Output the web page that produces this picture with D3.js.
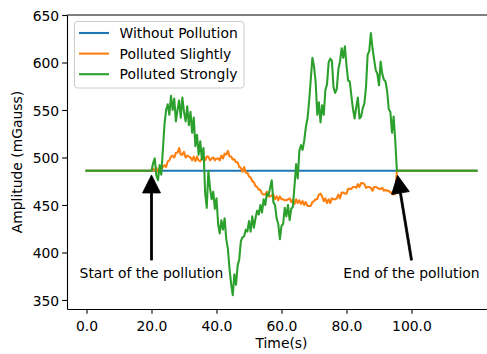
<!DOCTYPE html>
<html>
<head>
<meta charset="utf-8">
<script src="https://cdn.jsdelivr.net/npm/d3@7"></script>
<style>
  body { margin: 0; background: #fff; }
  svg { display: block; }
  text { font-family: "DejaVu Sans", sans-serif; font-size: 13.9px; fill: #000; }
</style>
</head>
<body>
<svg id="chart" width="487" height="354"></svg>
<script>
// Magnetic field amplitude (mGauss) over time (s)
const seriesNames = ["Without Pollution", "Polluted Slightly", "Polluted Strongly"];
const seriesColors = ["#1f77b4", "#ff7f0e", "#2ca02c"];

const baselineLevel = 486;      // undisturbed field level
const recordStart = 0;
const recordEnd = 120;
const pollutionStart = 20;      // first sample of the disturbed interval
const pollutionEnd = 95.5;      // field back to the baseline
const sampleStep = 0.5;         // seconds between disturbed samples

// Samples from t = 20 s to t = 95 s, one row per 5 s
const slightValues = [
  486,488,486,489,485,488,487,490,492,490,
  496,497,501,502,500,505,505,510,503,503,
  506,500,502,501,500,497,501,496,501,497,
  496,499,502,497,501,501,497,499,500,497,
  499,499,497,502,499,504,503,507,501,501,
  498,498,495,495,490,489,485,490,484,484,
  480,479,475,474,470,469,466,466,462,461,
  461,464,459,459,460,461,456,459,455,459,
  456,456,455,455,456,457,453,456,451,456,
  452,455,451,454,450,453,449,449,449,453,
  454,456,456,461,462,459,454,457,452,456,
  452,457,456,456,457,461,457,463,463,462,
  462,467,467,467,469,469,468,472,469,473,
  473,472,468,469,469,468,465,469,469,468,
  467,467,468,465,466,465,465,463,463,461,
  462
];

const strongValues = [
  486,494,499,481,476,492,482,508,535,550,
  556,545,565,550,562,538,550,560,542,563,
  548,538,554,534,548,526,542,512,524,503,
  517,498,510,463,447,486,468,456,464,446,
  457,430,420,434,424,436,414,404,383,367,
  355,377,366,386,393,412,416,417,424,422,
  433,422,438,426,436,444,440,450,442,456,
  450,462,460,468,476,453,450,436,430,414,
  428,430,447,438,450,434,446,448,470,493,
  478,507,513,508,518,532,541,559,582,605,
  596,580,545,558,537,555,545,571,577,600,
  604,602,574,568,572,593,601,615,605,617,
  597,581,580,565,551,541,553,563,541,543,
  552,557,574,608,612,631,615,603,592,588,
  576,601,588,582,580,570,551,548,526,543,
  518
];

const xTickValues = [0, 20, 40, 60, 80, 100];
const yTickValues = [350, 400, 450, 500, 550, 600, 650];

// Pollution markers: arrow tip, arrow tail and label centre in data units
const markers = [
  { label: "Start of the pollution", tip: [20, 481.6], tail: [20, 392], text: [20, 378] },
  { label: "End of the pollution", tip: [95.7, 481.3], tail: [100, 392], text: [100, 378] }
];

function buildSeries(values) {
  const pts = [[recordStart, baselineLevel]];
  values.forEach((v, i) => pts.push([pollutionStart + i * sampleStep, v]));
  pts.push([pollutionEnd, baselineLevel]);
  pts.push([recordEnd, baselineLevel]);
  return pts;
}

const series = [
  [[recordStart, baselineLevel], [recordEnd, baselineLevel]],
  buildSeries(slightValues),
  buildSeries(strongValues)
];

const svg = d3.select("#chart");
const plot = { left: 67, right: 496, top: 15, bottom: 309 };

const x = d3.scaleLinear().domain([-6, 126]).range([plot.left, plot.right]);
const y = d3.scaleLinear().domain([340.5, 650]).range([plot.bottom, plot.top]);

// Lines
const line = d3.line().x(d => x(d[0])).y(d => y(d[1]));
svg.append("g")
  .selectAll("path")
  .data(series)
  .join("path")
  .attr("d", line)
  .attr("fill", "none")
  .attr("stroke", (d, i) => seriesColors[i])
  .attr("stroke-width", 2.08)
  .attr("stroke-linejoin", "round")
  .attr("stroke-linecap", "square");

// Axes
const xAxis = d3.axisBottom(x)
  .tickValues(xTickValues)
  .tickFormat(d => d.toFixed(1))
  .tickSize(4.86)
  .tickSizeOuter(0)
  .tickPadding(7);
const gx = svg.append("g").attr("transform", `translate(0,${plot.bottom})`).call(xAxis);

const yAxis = d3.axisLeft(y)
  .tickValues(yTickValues)
  .tickFormat(d3.format("d"))
  .tickSize(4.86)
  .tickSizeOuter(0)
  .tickPadding(3);
const gy = svg.append("g").attr("transform", `translate(${plot.left},0)`).call(yAxis);

[gx, gy].forEach(g => {
  g.attr("font-family", null).attr("font-size", null);
  g.select(".domain").attr("stroke", "#000").attr("stroke-width", 1.1);
  g.selectAll(".tick line").attr("stroke", "#000").attr("stroke-width", 1.1);
  g.selectAll(".tick text").attr("fill", "#000");
});
gy.selectAll(".tick text").attr("dy", "0.38em");

// Top spine
svg.append("line")
  .attr("x1", plot.left).attr("x2", plot.right)
  .attr("y1", plot.top).attr("y2", plot.top)
  .attr("stroke", "#000").attr("stroke-width", 1.1);

// Axis titles
svg.append("text")
  .attr("x", (plot.left + plot.right) / 2)
  .attr("y", 348)
  .attr("text-anchor", "middle")
  .text("Time(s)");

svg.append("text")
  .attr("transform", `translate(22,${(plot.top + plot.bottom) / 2}) rotate(-90)`)
  .attr("text-anchor", "middle")
  .text("Amplitude (mGauss)");

// Arrow markers with labels
function arrowPoints(tail, tip) {
  const x0 = x(tail[0]), y0 = y(tail[1]);
  const x1 = x(tip[0]), y1 = y(tip[1]);
  const len = Math.hypot(x1 - x0, y1 - y0);
  const ux = (x1 - x0) / len, uy = (y1 - y0) / len;
  const nx = -uy, ny = ux;
  const headLen = 18, headHalf = 9, shaftHalf = 1;
  const bx = x1 - ux * headLen, by = y1 - uy * headLen;
  return [
    [x0 + nx * shaftHalf, y0 + ny * shaftHalf],
    [bx + nx * shaftHalf, by + ny * shaftHalf],
    [bx + nx * headHalf, by + ny * headHalf],
    [x1, y1],
    [bx - nx * headHalf, by - ny * headHalf],
    [bx - nx * shaftHalf, by - ny * shaftHalf],
    [x0 - nx * shaftHalf, y0 - ny * shaftHalf]
  ];
}

const ann = svg.append("g");
ann.selectAll("polygon")
  .data(markers)
  .join("polygon")
  .attr("points", d => arrowPoints(d.tail, d.tip).map(p => p.join(",")).join(" "))
  .attr("fill", "#000")
  .attr("stroke", "#000")
  .attr("stroke-width", 0.8)
  .attr("stroke-linejoin", "miter");

ann.selectAll("text")
  .data(markers)
  .join("text")
  .attr("x", d => x(d.text[0]))
  .attr("y", d => y(d.text[1]))
  .attr("dy", "0.36em")
  .attr("text-anchor", "middle")
  .text(d => d.label);

// Legend
const legend = svg.append("g");
legend.append("rect")
  .attr("x", 74.5).attr("y", 21.5)
  .attr("width", 169.5).attr("height", 66.5)
  .attr("rx", 3)
  .attr("fill", "#fff").attr("fill-opacity", 0.8)
  .attr("stroke", "#cccccc").attr("stroke-width", 1);

const items = legend.selectAll("g.item")
  .data(seriesNames)
  .join("g")
  .attr("class", "item")
  .attr("transform", (d, i) => `translate(0,${33 + i * 20.6})`);

items.append("line")
  .attr("x1", 79).attr("x2", 109)
  .attr("stroke", (d, i) => seriesColors[i])
  .attr("stroke-width", 2.08);

items.append("text")
  .attr("x", 119.5)
  .attr("dy", "0.36em")
  .text(d => d);
</script>
</body>
</html>
